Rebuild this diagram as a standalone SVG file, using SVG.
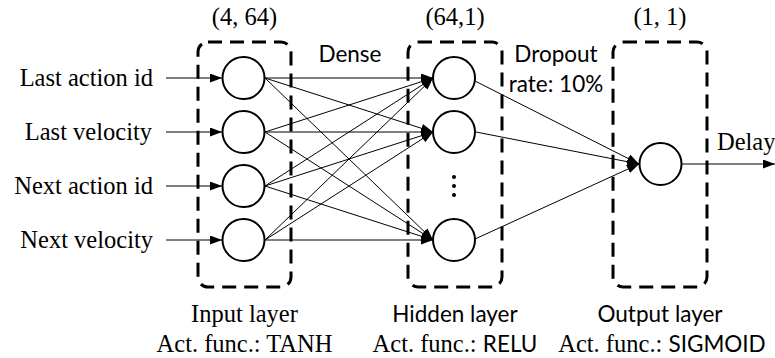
<svg xmlns="http://www.w3.org/2000/svg" width="775" height="358" viewBox="0 0 775 358">
<style>
.serif{font-family:"Liberation Serif","Times New Roman",serif;font-size:24.5px;fill:#000}
.sans{font-family:Lato,"Liberation Sans",sans-serif;font-size:22.5px;fill:#000}
.box{fill:none;stroke:#000;stroke-width:3;stroke-dasharray:14 8}
.node{fill:#fff;stroke:#000;stroke-width:2}
.con{stroke:#000;stroke-width:1;fill:none;marker-end:url(#ah)}
</style>
<defs>
<marker id="ah" markerUnits="userSpaceOnUse" markerWidth="12" markerHeight="10" refX="12" refY="4.5" orient="auto">
<path d="M0,0 L12,4.5 L0,9 z" fill="#000"/>
</marker>
</defs>
<rect width="775" height="358" fill="#fff"/>

<g id="input-layer">
<rect class="box" x="198" y="42" width="93" height="245" rx="10"/>
<text class="serif" x="244.5" y="25" text-anchor="middle">(4, 64)</text>
<text class="serif" x="244.5" y="322" text-anchor="middle">Input layer</text>
<text class="serif" x="244.5" y="352" text-anchor="middle">Act. func.: TANH</text>
</g>
<g id="hidden-layer">
<rect class="box" x="408" y="42" width="94" height="245" rx="10"/>
<text class="serif" x="455" y="25" text-anchor="middle">(64,1)</text>
<text class="sans" x="455" y="322" text-anchor="middle">Hidden layer</text>
<text x="455" y="352" text-anchor="middle"><tspan class="serif">Act. func.: </tspan><tspan class="sans">RELU</tspan></text>
</g>
<g id="output-layer">
<rect class="box" x="613" y="42" width="94" height="245" rx="10"/>
<text class="serif" x="660" y="25" text-anchor="middle">(1, 1)</text>
<text class="sans" x="660" y="322" text-anchor="middle">Output layer</text>
<text x="662" y="352" text-anchor="middle"><tspan class="serif">Act. func.: </tspan><tspan class="sans">SIGMOID</tspan></text>
</g>

<g id="labels">
<text class="serif" x="153" y="86" text-anchor="end">Last action id</text>
<text class="serif" x="152" y="140" text-anchor="end">Last velocity</text>
<text class="serif" x="153" y="194" text-anchor="end">Next action id</text>
<text class="serif" x="153" y="248" text-anchor="end">Next velocity</text>
<text class="sans" x="350" y="62" text-anchor="middle">Dense</text>
<text class="sans" x="556" y="62" text-anchor="middle">Dropout</text>
<text class="sans" x="556" y="92" text-anchor="middle">rate: 10%</text>
<text class="serif" x="717" y="150">Delay</text>
</g>

<g id="connectors">
<line class="con" x1="166" y1="78" x2="222" y2="78"/>
<line class="con" x1="166" y1="132" x2="222" y2="132"/>
<line class="con" x1="166" y1="186" x2="222" y2="186"/>
<line class="con" x1="166" y1="240" x2="222" y2="240"/>

<line class="con" x1="265" y1="78" x2="433" y2="78"/>
<line class="con" x1="265" y1="78" x2="433" y2="132"/>
<line class="con" x1="265" y1="78" x2="433" y2="240"/>
<line class="con" x1="265" y1="132" x2="433" y2="78"/>
<line class="con" x1="265" y1="132" x2="433" y2="132"/>
<line class="con" x1="265" y1="132" x2="433" y2="240"/>
<line class="con" x1="265" y1="186" x2="433" y2="78"/>
<line class="con" x1="265" y1="186" x2="433" y2="132"/>
<line class="con" x1="265" y1="186" x2="433" y2="240"/>
<line class="con" x1="265" y1="240" x2="433" y2="78"/>
<line class="con" x1="265" y1="240" x2="433" y2="132"/>
<line class="con" x1="265" y1="240" x2="433" y2="240"/>

<line class="con" x1="475" y1="81" x2="639" y2="164"/>
<line class="con" x1="476" y1="132" x2="639" y2="164"/>
<line class="con" x1="475" y1="239" x2="639" y2="164"/>

<line class="con" x1="682" y1="164" x2="775" y2="164"/>
</g>

<g id="input-nodes">
<circle id="in1" class="node" cx="243.5" cy="78" r="21"/>
<circle id="in2" class="node" cx="243.5" cy="132" r="21"/>
<circle id="in3" class="node" cx="243.5" cy="186" r="21"/>
<circle id="in4" class="node" cx="243.5" cy="240" r="21"/>
</g>
<g id="hidden-nodes">
<circle id="h1" class="node" cx="454" cy="78" r="21"/>
<circle id="h2" class="node" cx="454" cy="132" r="21"/>
<circle id="h3" class="node" cx="454" cy="240" r="21"/>
<circle cx="454" cy="177" r="2"/>
<circle cx="454" cy="186" r="2"/>
<circle cx="454" cy="195" r="2"/>
</g>
<g id="output-node">
<circle id="out" class="node" cx="660.5" cy="164" r="21"/>
</g>
</svg>
